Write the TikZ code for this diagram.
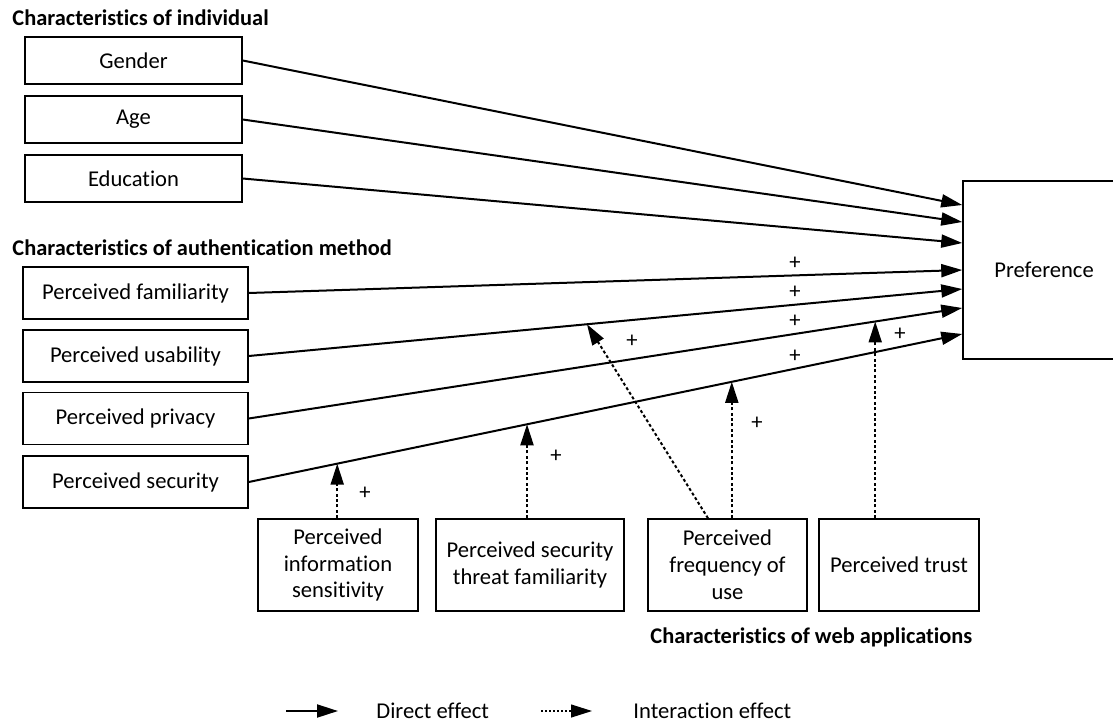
\documentclass[tikz,border=0pt]{standalone}
\usepackage{fontspec}
\setmainfont{Carlito}[Ligatures={NoCommon}]
\usetikzlibrary{arrows.meta,calc}

\begin{document}
\begin{tikzpicture}
  [x=0.5pt,y=-0.5pt,every node/.style={font=\fontsize{11.3}{13.4}\selectfont}]
  \tikzstyle{box} = [draw,line width=0.75pt,inner sep=0pt,align=center]
  \tikzstyle{ind} = [box,minimum width=108.5pt,minimum height=23.5pt]
  \tikzstyle{auth} = [box,minimum width=112.5pt,minimum height=26pt]
  \tikzstyle{web} = [box,minimum height=46pt]
  \tikzstyle{title} = [font=\fontsize{11.2}{13.4}\selectfont\bfseries,inner sep=0pt,anchor=base west]
  \tikzstyle{direct} = [line width=1pt,-{Triangle[length=10.5pt,width=6.5pt]}]
  \tikzstyle{inter} = [direct,dash pattern=on 1.5pt off 1.2pt]
  \tikzstyle{plus} = [inner sep=0pt]
  \useasboundingbox (0,0) rectangle (1113,723);

  % characteristics of individual
  \node[title] (tind) at (12,25) {Characteristics of individual};
  \node[ind] (gender) at (133.5,60.5) {Gender};
  \node[ind] (age) at (133.5,119.5) {Age};
  \node[ind] (edu) at (133.5,178.5) {Education};

  % characteristics of authentication method
  \node[title] (tauth) at (12,255) {Characteristics of authentication method};
  \node[auth] (fam) at (135.5,293) {Perceived familiarity};
  \node[auth] (usa) at (135.5,356) {Perceived usability};
  \node[auth] (pri) at (135.5,418.5) {Perceived privacy};
  \node[auth] (sec) at (135.5,482) {Perceived security};

  % characteristics of web applications
  \node[web,minimum width=80pt] (info) at (338,565) {Perceived\\information\\sensitivity};
  \node[web,minimum width=94pt] (threat) at (530,565) {Perceived security\\threat familiarity};
  \node[web,minimum width=79.5pt] (freq) at (727.5,565) {Perceived\\frequency of\\use};
  \node[web,minimum width=80pt] (trust) at (899,565) {Perceived trust};
  \node[title] (tweb) at (650,643) {Characteristics of web applications};

  \node[box,minimum width=81pt,minimum height=89pt] (pref) at (1044,270) {Preference};

  % direct effects
  \foreach \name/\dy in {pg/-65,pa/-48,pe/-27,pf/0,pu/19,pp/38,ps/64}
    \coordinate (\name) at ($(pref.west)+(0,\dy)$);
  \foreach \source/\dest in {gender/pg,age/pa,edu/pe,fam/pf,usa/pu,pri/pp,sec/ps}
    \draw[direct] (\source.east) -- (\dest);

  % interaction effects
  \coordinate (m1) at ($(sec.east)!0.124!(ps)$);
  \coordinate (m2) at ($(sec.east)!0.390!(ps)$);
  \coordinate (m3) at ($(usa.east)!0.474!(pu)$);
  \coordinate (m4) at ($(sec.east)!0.677!(ps)$);
  \coordinate (m5) at ($(pri.east)!0.878!(pp)$);
  \draw[inter] (m1 |- info.north) -- (m1);
  \draw[inter] (m2 |- threat.north) -- (m2);
  \draw[inter] ($(freq.north)+(-19.5,0)$) -- (m3);
  \draw[inter] (m4 |- freq.north) -- (m4);
  \draw[inter] (m5 |- trust.north) -- (m5);

  \foreach \x/\y [count=\i] in {795/263,795/292,795/321,795/356,632/341,900/334,757/423,556/456,365/493}
    \node[plus] (plus\i) at (\x,\y) {+};

  % legend
  \coordinate (ld1) at (286,711);
  \coordinate (ld2) at (338,711);
  \coordinate (li1) at (541,711);
  \coordinate (li2) at (592,711);
  \draw[direct] (ld1) -- (ld2);
  \draw[inter,line width=0.6pt,dash pattern=on 1pt off 1pt] (li1) -- (li2);
  \node[anchor=base west,inner sep=0pt] (ldir) at (376,718) {Direct effect};
  \node[anchor=base west,inner sep=0pt] (lint) at (633,718) {Interaction effect};
\end{tikzpicture}
\end{document}
